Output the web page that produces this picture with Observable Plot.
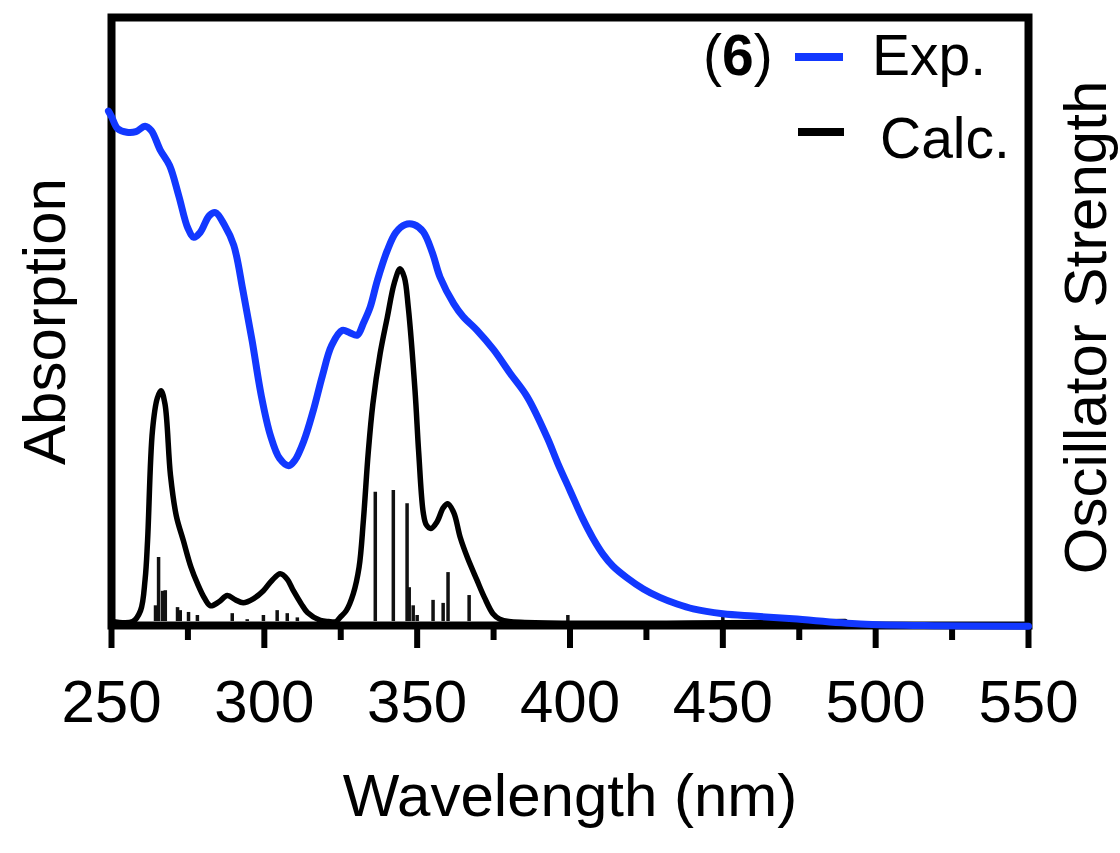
<!DOCTYPE html>
<html><head><meta charset="utf-8">
<script src="https://cdn.jsdelivr.net/npm/d3@7"></script>
<script src="https://cdn.jsdelivr.net/npm/@observablehq/plot@0.6"></script>
<style>body{margin:0;background:#fff;} svg{display:block}</style>
</head><body>
<div id="chart"></div>
<script>
// Experimental absorption (normalised)
const expNm  = [249, 250, 252, 255, 258, 261, 263, 266, 269, 272, 275, 277, 279, 282, 284, 287, 290, 293, 296, 299, 302, 305, 308, 310, 313, 316, 319, 322, 325.5, 328, 330.4, 332.5, 334.6, 337, 340.2, 343, 346, 349, 352, 355, 357.5, 362, 365, 369.6, 375, 380.4, 386, 392.5, 396, 400, 404, 407.5, 411, 414, 418.5, 424, 429.4, 435, 440.3, 450, 460, 473, 495, 520, 550];
const expAbs = [0.845, 0.836, 0.816, 0.810, 0.811, 0.820, 0.813, 0.780, 0.755, 0.705, 0.651, 0.636, 0.644, 0.672, 0.677, 0.656, 0.623, 0.548, 0.465, 0.374, 0.308, 0.270, 0.258, 0.267, 0.300, 0.349, 0.407, 0.457, 0.482, 0.478, 0.474, 0.495, 0.520, 0.565, 0.614, 0.644, 0.657, 0.657, 0.645, 0.610, 0.570, 0.526, 0.505, 0.482, 0.450, 0.411, 0.372, 0.305, 0.262, 0.217, 0.172, 0.138, 0.110, 0.092, 0.073, 0.054, 0.040, 0.029, 0.021, 0.013, 0.009, 0.0045, -0.004, -0.007, -0.008];
// Calculated spectrum (broadened)
const calcNm  = [250, 257, 259.5, 261, 261.8, 263.4, 265, 266.2, 267.5, 269.3, 271.2, 273.5, 276, 278.1, 280.5, 282.4, 285, 287.9, 290.5, 293.1, 296.5, 299.7, 302.5, 305.2, 307.5, 309.5, 312, 314.1, 318.3, 321, 323.5, 324.8, 326.8, 329.1, 331, 332.4, 334, 335.5, 337.9, 340.2, 342.5, 344.4, 345.8, 347.1, 349.3, 350.5, 352, 353, 354.5, 356.5, 358.5, 360, 362, 364.1, 366.5, 369.6, 372, 374.8, 377, 380, 490];
const calcAbs = [0, 0, 0.018, 0.07, 0.134, 0.316, 0.37, 0.382, 0.36, 0.242, 0.175, 0.134, 0.09, 0.063, 0.038, 0.026, 0.032, 0.043, 0.036, 0.031, 0.038, 0.051, 0.068, 0.079, 0.07, 0.051, 0.03, 0.015, 0.002, 0, 0, 0.007, 0.018, 0.046, 0.09, 0.167, 0.28, 0.36, 0.444, 0.503, 0.56, 0.584, 0.57, 0.52, 0.382, 0.28, 0.18, 0.16, 0.154, 0.165, 0.188, 0.195, 0.18, 0.139, 0.105, 0.068, 0.04, 0.013, 0.004, 0, 0];
// Oscillator strengths (sticks)
const stickNm = [264.4, 265.4, 266.7, 267.6, 271.6, 272.5, 275.2, 278.1, 289.5, 294.4, 299.7, 304.2, 307.5, 310.8, 336.3, 342.2, 346.7, 347.4, 348.7, 350.0, 355.2, 358.5, 360.1, 367.0, 399.3, 450];
const stickF  = [0.026, 0.106, 0.05, 0.051, 0.023, 0.018, 0.015, 0.010, 0.013, 0.003, 0.010, 0.018, 0.013, 0.006, 0.214, 0.217, 0.195, 0.056, 0.026, 0.010, 0.035, 0.030, 0.081, 0.043, 0.010, 0.008];

const majorTicks = [250, 300, 350, 400, 450, 500, 550];
const minorTicks = [275, 325, 375, 425, 475, 525];
const xLabel = "Wavelength (nm)";
const yLeftLabel = "Absorption";
const yRightLabel = "Oscillator Strength";
const compoundLabel = "6";
const legendLabels = ["Exp.", "Calc."];
const blue = "#1238ff";

const exp = expNm.map((x, i) => ({x, y: expAbs[i]}));
const calc = calcNm.map((x, i) => ({x, y: calcAbs[i]}));
const sticks = stickNm.map((x, i) => ({x, y: stickF[i]}));

const font = "'Liberation Sans', Arial, Helvetica, sans-serif";

const plot = Plot.plot({
  width: 1120, height: 853,
  marginLeft: 111, marginRight: 92, marginTop: 17, marginBottom: 228,
  style: {fontFamily: font, background: "white", color: "black", fontSize: "60px"},
  x: {domain: [250, 550]},
  y: {domain: [-0.0066, 1], axis: null},
  marks: [
    Plot.ruleX(sticks, {x: "x", y1: 0, y2: "y", stroke: "#111", strokeWidth: 3.5}),
    Plot.line(calc, {x: "x", y: "y", stroke: "black", strokeWidth: 5.5, curve: "catmull-rom"}),
    Plot.frame({stroke: "black", strokeWidth: 8}),
    Plot.axisX({ticks: minorTicks, tickSize: 15, strokeWidth: 6, tickFormat: () => "", label: null}),
    Plot.axisX({ticks: majorTicks, tickSize: 23, strokeWidth: 6, tickPadding: 31, fontSize: 60, label: null, tickFormat: d => String(d)}),
    Plot.line(exp, {x: "x", y: "y", stroke: blue, strokeWidth: 7, curve: "catmull-rom"}),
    Plot.text([xLabel], {text: d => d, frameAnchor: "bottom", dy: 190, lineAnchor: "bottom", textAnchor: "middle", fontSize: 60}),
    Plot.text([yLeftLabel], {text: d => d, frameAnchor: "left", dx: -47, rotate: -90, lineAnchor: "bottom", textAnchor: "middle", fontSize: 60}),
    Plot.text([yRightLabel], {text: d => d, frameAnchor: "right", dx: 77, dy: 6, rotate: -90, lineAnchor: "bottom", textAnchor: "middle", fontSize: 60})
  ]
});
document.getElementById("chart").appendChild(plot);

// Legend (inside the top-right corner of the frame)
const svg = d3.select(plot);
const lg = svg.append("g").attr("font-family", font).attr("font-size", 57).attr("fill", "black").attr("text-anchor", "start");
const t6 = lg.append("text").attr("x", 703).attr("y", 75);
t6.append("tspan").text("(");
t6.append("tspan").attr("font-weight", "bold").text(compoundLabel);
t6.append("tspan").text(")");
lg.append("line").attr("x1", 795).attr("x2", 843).attr("y1", 57).attr("y2", 57).attr("stroke", blue).attr("stroke-width", 8);
lg.append("text").attr("x", 872).attr("y", 75).text(legendLabels[0]);
lg.append("line").attr("x1", 798).attr("x2", 844).attr("y1", 132).attr("y2", 132).attr("stroke", "black").attr("stroke-width", 8);
lg.append("text").attr("x", 880).attr("y", 158).text(legendLabels[1]);
</script>
</body></html>
